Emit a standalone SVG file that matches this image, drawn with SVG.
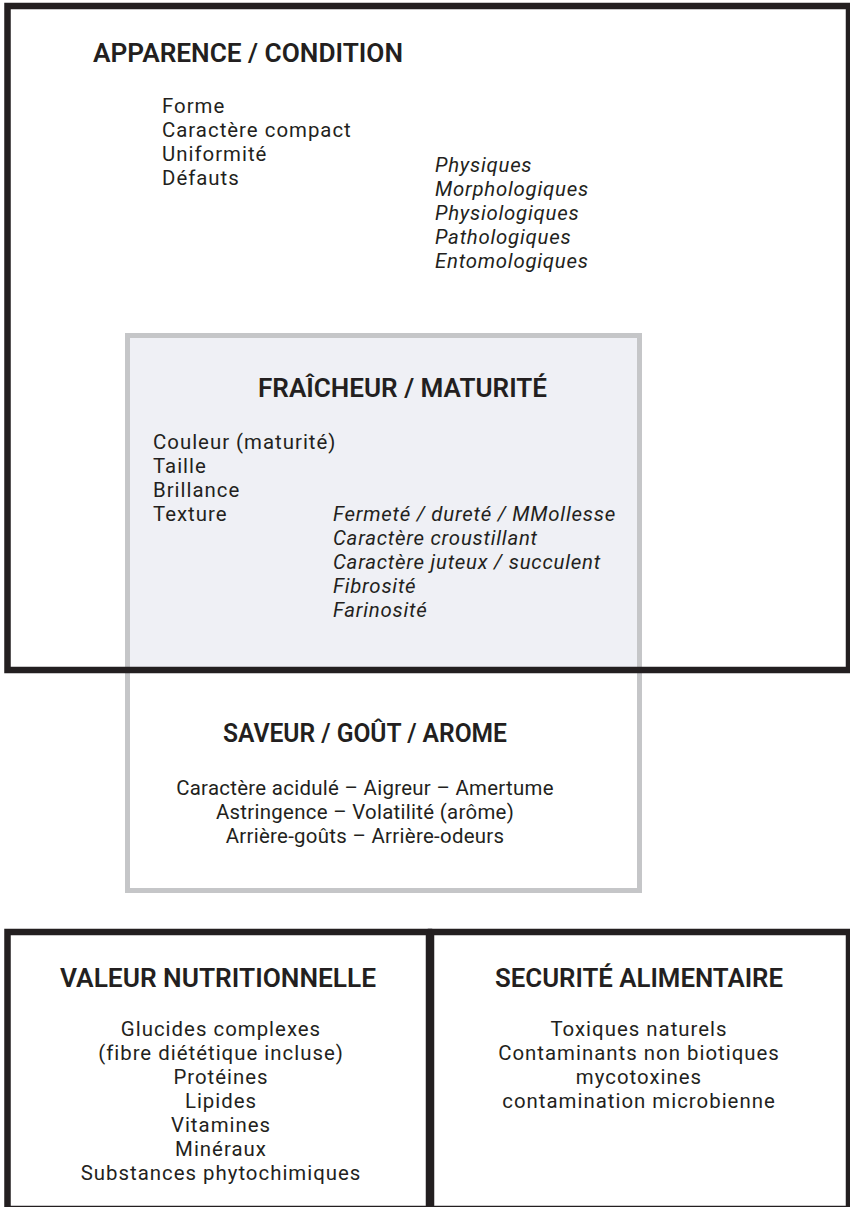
<svg xmlns="http://www.w3.org/2000/svg" width="850" height="1207" viewBox="0 0 850 1207">
<style>
text{font-family:Roboto,"Liberation Sans",sans-serif;fill:#231f20}
.t{font-size:26px;font-weight:600}
.b{font-size:20.4px;letter-spacing:1px}
.i{font-size:20.4px;font-style:italic;letter-spacing:0.75px}
.s{font-size:20.4px;letter-spacing:0.3px}
.c{text-anchor:middle}
.blk{fill:none;stroke:#231f20;stroke-width:6.5}
.gry{fill:none;stroke:#c5c6c8;stroke-width:5}
</style>
<rect width="850" height="1207" fill="#ffffff"/>
<g id="fraicheur-zone">
<rect x="127.5" y="335.5" width="512" height="334.5" fill="#eff0f5"/>
</g>
<g id="saveur">
<rect class="gry" x="127.5" y="335.5" width="512" height="555"/>
<text class="t c" x="365" y="742" textLength="284" lengthAdjust="spacingAndGlyphs">SAVEUR / GOÛT / AROME</text>
<text class="s c" x="365" y="795">Caractère acidulé – Aigreur – Amertume</text>
<text class="s c" x="365" y="819">Astringence – Volatilité (arôme)</text>
<text class="s c" x="365" y="843">Arrière-goûts – Arrière-odeurs</text>
</g>
<g id="apparence">
<rect class="blk" x="7.5" y="6" width="841.5" height="664"/>
<text class="t" x="93" y="62" textLength="310" lengthAdjust="spacingAndGlyphs">APPARENCE / CONDITION</text>
<text class="b" x="162" y="113">Forme</text>
<text class="b" x="162" y="137">Caractère compact</text>
<text class="b" x="162" y="161">Uniformité</text>
<text class="b" x="162" y="185">Défauts</text>
<text class="i" x="435" y="172">Physiques</text>
<text class="i" x="435" y="196">Morphologiques</text>
<text class="i" x="435" y="220">Physiologiques</text>
<text class="i" x="435" y="244">Pathologiques</text>
<text class="i" x="435" y="268">Entomologiques</text>
</g>
<g id="fraicheur">
<text class="t" x="258" y="397" textLength="289" lengthAdjust="spacingAndGlyphs">FRAÎCHEUR / MATURITÉ</text>
<text class="b" x="153" y="449">Couleur (maturité)</text>
<text class="b" x="153" y="473">Taille</text>
<text class="b" x="153" y="497">Brillance</text>
<text class="b" x="153" y="521">Texture</text>
<text class="i" x="333" y="521">Fermeté / dureté / MMollesse</text>
<text class="i" x="333" y="545">Caractère croustillant</text>
<text class="i" x="333" y="569">Caractère juteux / succulent</text>
<text class="i" x="333" y="593">Fibrosité</text>
<text class="i" x="333" y="617">Farinosité</text>
</g>
<g id="valeur">
<rect class="blk" x="7.5" y="932" width="421.5" height="277"/>
<text class="t c" x="218" y="987" textLength="316" lengthAdjust="spacingAndGlyphs">VALEUR NUTRITIONNELLE</text>
<text class="b c" x="221" y="1036">Glucides complexes</text>
<text class="b c" x="221" y="1060">(fibre diététique incluse)</text>
<text class="b c" x="221" y="1084">Protéines</text>
<text class="b c" x="221" y="1108">Lipides</text>
<text class="b c" x="221" y="1132">Vitamines</text>
<text class="b c" x="221" y="1156">Minéraux</text>
<text class="b c" x="221" y="1180">Substances phytochimiques</text>
</g>
<g id="securite">
<rect class="blk" x="431" y="932" width="418" height="277"/>
<text class="t c" x="639" y="987" textLength="288" lengthAdjust="spacingAndGlyphs">SECURITÉ ALIMENTAIRE</text>
<text class="b c" x="639" y="1036">Toxiques naturels</text>
<text class="b c" x="639" y="1060">Contaminants non biotiques</text>
<text class="b c" x="639" y="1084">mycotoxines</text>
<text class="b c" x="639" y="1108">contamination microbienne</text>
</g>
<g id="connectors"></g>
</svg>
